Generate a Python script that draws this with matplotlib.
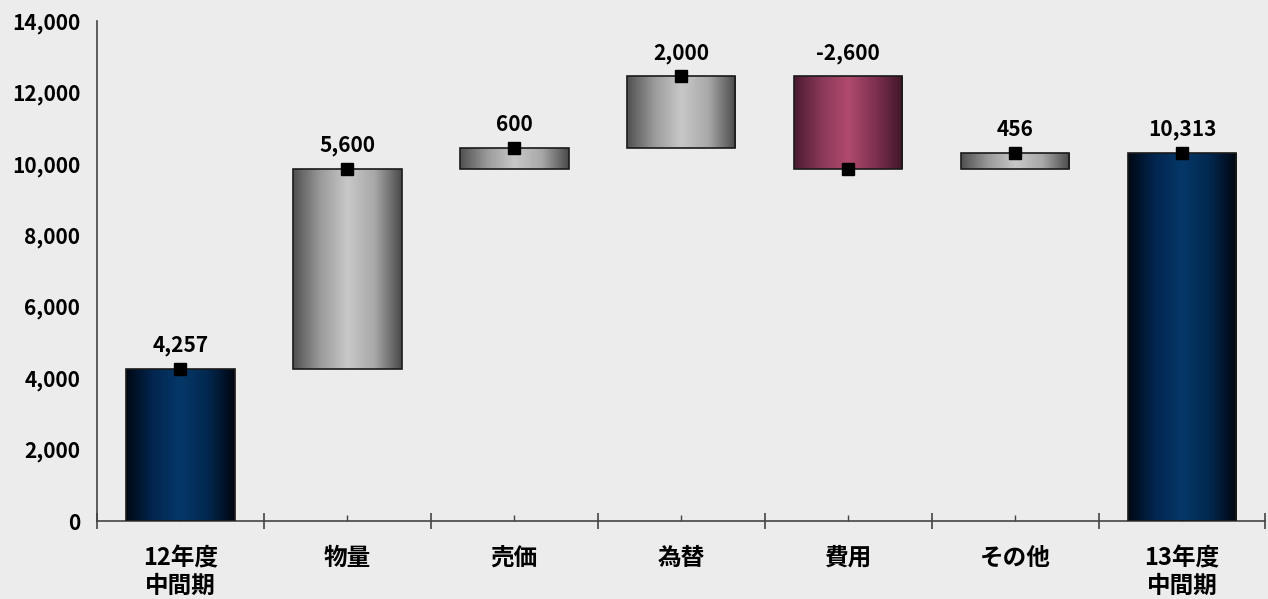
import numpy as np
import matplotlib.pyplot as plt
from matplotlib.colors import LinearSegmentedColormap
from matplotlib.ticker import FuncFormatter, FixedLocator

plt.rcParams['font.family'] = ['Noto Sans CJK JP', 'DejaVu Sans']
plt.rcParams['font.weight'] = 'bold'

categories = ['12年度\n中間期', '物量', '売価', '為替', '費用', 'その他', '13年度\n中間期']
values = [4257, 5600, 600, 2000, -2600, 456, 10313]
labels = ['4,257', '5,600', '600', '2,000', '-2,600', '456', '10,313']
kinds = ['total', 'step', 'step', 'step', 'step', 'step', 'total']

# waterfall positions
bottoms, tops, ends = [], [], []
run = 0
for v, k in zip(values, kinds):
    if k == 'total':
        b, t = 0, v
        run = v
    else:
        b, t = min(run, run + v), max(run, run + v)
        run = run + v
    bottoms.append(b)
    tops.append(t)
    ends.append(run)

navy = LinearSegmentedColormap.from_list('navy', ['#000814', '#022650', '#053869', '#02284f', '#000510'])
gray = LinearSegmentedColormap.from_list('gray', ['#505050', '#9a9a9a', '#c8c8c8', '#a8a8a8', '#4a4a4a'])
plum = LinearSegmentedColormap.from_list('plum', ['#4a1a30', '#8a3858', '#b04a6e', '#7e3050', '#401628'])

fig = plt.figure(figsize=(12.68, 5.99), dpi=100)
fig.patch.set_facecolor('#ececec')
ax = fig.add_axes([0.0765, 0.1302, 0.9215, 0.8348])
ax.set_facecolor('#ececec')

x = np.arange(len(categories))
width = 0.65
grad = np.linspace(0, 1, 256).reshape(1, -1)
for i in x:
    if kinds[i] == 'total':
        cmap = navy
    elif values[i] < 0:
        cmap = plum
    else:
        cmap = gray
    bar = ax.bar(i, tops[i] - bottoms[i], width, bottom=bottoms[i],
                 facecolor='none', edgecolor='#1a1a1a', linewidth=1.2, zorder=3)[0]
    im = ax.imshow(grad, cmap=cmap, aspect='auto', zorder=2,
                   extent=[i - width / 2, i + width / 2, bottoms[i], tops[i]])
    im.set_clip_path(bar)
    ax.plot(i, ends[i], 's', color='black', markersize=8, zorder=4)
    ax.annotate(labels[i], (i, tops[i]), xytext=(0, 9), textcoords='offset points',
                ha='center', va='bottom', fontsize=15, fontweight='bold', zorder=5)

ax.set_xlim(-0.5, len(categories) - 0.5)
ax.set_ylim(0, 14000)
ax.set_yticks(np.arange(0, 14001, 2000))
ax.yaxis.set_major_formatter(FuncFormatter(lambda v, p: f'{int(v):,}'))
ax.tick_params(axis='y', length=0, pad=12, labelsize=15)

ax.xaxis.set_major_locator(FixedLocator(np.arange(-0.5, len(categories), 1.0)))
ax.xaxis.set_minor_locator(FixedLocator(x))
ax.set_xticklabels([''] * (len(categories) + 1))
ax.set_xticklabels(categories, minor=True)
ax.tick_params(axis='x', which='major', direction='inout', length=12, width=1.2, color='#444444')
ax.tick_params(axis='x', which='minor', direction='in', length=4, width=1, color='#444444',
               pad=18, labelsize=17)
for lab in ax.get_xticklabels(minor=True):
    lab.set_fontweight('bold')
    lab.set_linespacing(1.2)

ax.spines['top'].set_visible(False)
ax.spines['right'].set_visible(False)
ax.spines['left'].set_color('#444444')
ax.spines['bottom'].set_color('#444444')
ax.spines['left'].set_linewidth(1.2)
ax.spines['bottom'].set_linewidth(1.2)

fig.savefig('out.png', dpi=100, facecolor=fig.get_facecolor())
